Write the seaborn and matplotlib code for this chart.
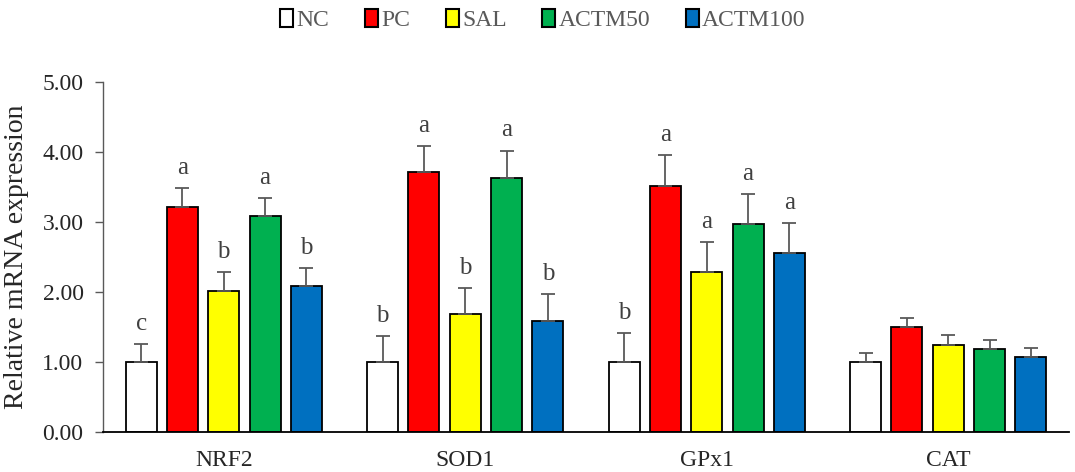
import numpy as np
import pandas as pd
import seaborn as sns
import matplotlib.pyplot as plt
from matplotlib.patches import Patch

genes = ['NRF2', 'SOD1', 'GPx1', 'CAT']
groups = ['NC', 'PC', 'SAL', 'ACTM50', 'ACTM100']
colors = ['#FFFFFF', '#FF0000', '#FFFF00', '#00B050', '#0070C0']

# mean values per group, in gene order
nc = [1.00, 1.00, 1.00, 1.00]
pc = [3.22, 3.71, 3.52, 1.50]
sal = [2.01, 1.68, 2.29, 1.25]
actm50 = [3.08, 3.63, 2.97, 1.19]
actm100 = [2.08, 1.59, 2.56, 1.07]

# standard deviations
nc_sd = [0.26, 0.37, 0.41, 0.13]
pc_sd = [0.26, 0.38, 0.43, 0.13]
sal_sd = [0.27, 0.38, 0.42, 0.14]
actm50_sd = [0.26, 0.39, 0.43, 0.13]
actm100_sd = [0.26, 0.38, 0.43, 0.13]

# significance letters
nc_lab = ['c', 'b', 'b', '']
pc_lab = ['a', 'a', 'a', '']
sal_lab = ['b', 'b', 'a', '']
actm50_lab = ['a', 'a', 'a', '']
actm100_lab = ['b', 'b', 'a', '']

means = [nc, pc, sal, actm50, actm100]
sds = [nc_sd, pc_sd, sal_sd, actm50_sd, actm100_sd]
labs = [nc_lab, pc_lab, sal_lab, actm50_lab, actm100_lab]

rows = []
for g, vals in zip(groups, means):
    for gene, v in zip(genes, vals):
        rows.append({'gene': gene, 'group': g, 'value': v})
df = pd.DataFrame(rows)

sns.set_style('white')
plt.rcParams['font.family'] = ['Liberation Serif', 'DejaVu Serif']

fig = plt.figure(figsize=(10.75, 4.72), dpi=100)
ax = fig.add_axes([0.0958, 0.0847, 0.8986, 0.7416])

sns.barplot(data=df, x='gene', y='value', hue='group', order=genes,
            hue_order=groups, palette=dict(zip(groups, colors)),
            saturation=1, errorbar=None, width=0.855, gap=0.25,
            edgecolor='black', linewidth=1.3, legend=False, ax=ax)

for cont, sd, lab in zip(ax.containers, sds, labs):
    for bar, e, t in zip(cont, sd, lab):
        x = bar.get_x() + bar.get_width() / 2
        h = bar.get_height()
        ax.errorbar(x, h, yerr=[[0], [e]], fmt='none', ecolor='#595959',
                    elinewidth=1.3, capsize=5, capthick=1.3, zorder=1)
        if t:
            ax.text(x, h + e + 0.13, t, ha='center', va='bottom',
                    fontsize=18, color='#404040')

ax.set_ylim(0, 5)
ax.set_xlim(-0.5, 3.5)
ax.set_yticks(np.arange(0, 5.01, 1))
ax.set_yticklabels([f'{v:.2f}' for v in np.arange(0, 5.01, 1)])
ax.set_xlabel('')
ax.set_ylabel('Relative mRNA expression', fontsize=20, labelpad=10)
ax.tick_params(axis='y', labelsize=17, direction='out', length=6,
               width=1, color='#595959', left=True, pad=8)
ax.tick_params(axis='x', labelsize=17, length=0, pad=13)
for s in ['top', 'right']:
    ax.spines[s].set_visible(False)
ax.spines['left'].set_color('#595959')
ax.spines['left'].set_linewidth(1)
ax.spines['bottom'].set_color('black')
ax.spines['bottom'].set_linewidth(1.3)

handles = [Patch(facecolor=c, edgecolor='black', linewidth=1.5) for c in colors]
leg = fig.legend(handles, groups, loc='upper center', bbox_to_anchor=(0.505, 1.027),
                 ncol=5, frameon=False, fontsize=17, handlelength=0.55,
                 handleheight=0.8, handletextpad=0.15, columnspacing=1.5)
for t in leg.get_texts():
    t.set_color('#595959')

fig.savefig('out.png', dpi=100)
